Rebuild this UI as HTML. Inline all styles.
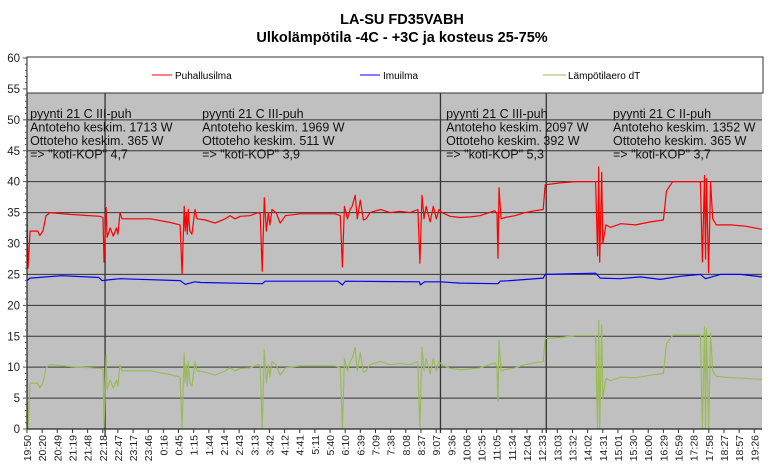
<!DOCTYPE html>
<html><head><meta charset="utf-8">
<style>
html,body{margin:0;padding:0;background:#fff;}
svg{display:block;font-family:"Liberation Sans",Arial,sans-serif;}
</style></head>
<body>
<svg id="chart" width="772" height="472" viewBox="0 0 772 472" xmlns="http://www.w3.org/2000/svg">
  <text x="402" y="24" text-anchor="middle" font-size="14.5" font-weight="bold" fill="#000">LA-SU FD35VABH</text>
  <text x="402" y="42" text-anchor="middle" font-size="14.5" font-weight="bold" fill="#000">Ulkolämpötila -4C - +3C ja kosteus 25-75%</text>
  <rect x="27" y="57" width="735" height="372" fill="#c0c0c0"/>
  <g id="grid"></g>
  <g id="dividers"></g>
  <g id="series"></g>
  <g id="yaxis"></g>
  <g id="xaxis"></g>
  <g>
    <rect x="27" y="57" width="736" height="36" fill="#fff" stroke="#333" stroke-width="1"/>
    <line x1="152" y1="75" x2="172" y2="75" stroke="#f00" stroke-width="1"/>
    <text x="175" y="79" font-size="10" fill="#000">Puhallusilma</text>
    <line x1="360" y1="75" x2="380" y2="75" stroke="#00f" stroke-width="1"/>
    <text x="383" y="79" font-size="10" fill="#000">Imuilma</text>
    <line x1="543" y1="75" x2="566" y2="75" stroke="#9bbb59" stroke-width="1"/>
    <text x="568" y="79" font-size="10" fill="#000">Lämpötilaero dT</text>
  </g>
  <g id="notes" font-size="12.5" fill="#111"></g>
</svg>
<script>
const xLabels=["19:50","20:20","20:49","21:19","21:48","22:18","22:47","23:17","23:46","0:16","0:45","1:15","1:44","2:14","2:43","3:13","3:42","4:12","4:41","5:11","5:40","6:10","6:39","7:09","7:38","8:08","8:37","9:07","9:36","10:06","10:35","11:05","11:34","12:04","12:33","13:03","13:32","14:02","14:31","15:01","15:30","16:00","16:29","16:59","17:28","17:58","18:27","18:57","19:26"];
const yTicks=[0,5,10,15,20,25,30,35,40,45,50,55,60];
// minutes since 19:50
const times=[0,2,6,21,25,31,37,45,84,142,148,150,154,156,162,168,174,177,181,185,240,279,298,302,306,308,310,312,314,317,321,327,331,347,366,386,395,405,415,434,450,454,458,462,466,470,473,477,485,493,503,532,571,600,610,614,618,624,629,633,639,643,649,655,660,668,688,707,726,746,761,765,769,773,777,785,791,797,802,808,824,843,863,882,911,915,917,919,923,931,950,970,989,1005,1009,1038,1068,1107,1111,1113,1115,1119,1121,1127,1136,1156,1185,1214,1239,1245,1257,1311,1315,1319,1321,1323,1327,1331,1335,1342,1370,1399,1431];
const puhallusilma=[35,26,32,32,31.3,32,34.5,35,34.7,34.4,34.2,27,35.8,31,32.5,31.2,32.5,31.5,35,34,34,33.4,33,25,36,32,35,31.5,35.5,32,31.5,35.5,34,33.8,33.3,34,34.5,34,34.4,34.5,35,34.8,25.5,37.4,32,35,33,35.5,35,33.3,34.5,34.8,34.8,34.8,34.5,26.2,36,34,35.5,36,37.8,34,37,33.8,34,35,35.5,35,35.2,35,35.5,26.8,37.8,34,36,33.5,36,34,35.5,35,34.4,34.2,34.3,34.5,35.3,34.8,27.6,39,34,34.2,34.5,35,35.3,35.5,39.5,39.8,40,40,28,42.4,27,41.5,30,33,32.6,33.2,33,33.5,33.8,38.5,40,40,27,41,27.5,40.5,25.3,40,34,33,33,32.8,32.3];
const lampotilaero=[10.8,0,7.4,7.4,6.7,7.4,9.9,10.4,10.1,9.8,9.6,0,12,6.4,7.9,6.6,7.9,6.9,10.4,9.4,9.4,8.8,8.4,0,12.3,7.4,10.4,6.9,10.9,7.4,6.9,10.9,9.4,9.2,8.7,9.4,9.9,9.4,9.8,9.9,10.4,10.2,0,12.8,7.4,10.4,8.4,10.9,10.4,8.7,9.9,10.2,10.2,10.2,9.9,0,11.4,9.4,10.9,11.4,13.2,9.4,12.4,9.2,9.4,10.4,10.9,10.4,10.6,10.4,10.9,0,13.2,9.4,11.4,8.9,11.4,9.4,10.9,10.4,9.8,9.6,9.7,9.9,10.7,10.2,4.4,14.4,9.4,9.6,9.9,10.4,10.7,10.9,14.6,14.8,15.1,15.1,0,17.6,0,16.8,5,8.2,7.8,8.4,8.3,8.7,9,13.8,15.2,15.2,0,16.6,0,16.2,0,15.5,9.4,8.5,8.3,8.2,8];
const imuTimes=[0,6,68,140,146,156,181,298,308,327,338,458,464,605,614,620,764,766,774,804,843,917,921,941,1005,1009,1107,1116,1155,1194,1233,1272,1311,1321,1350,1389,1431];
const imuilma=[24.0,24.4,24.8,24.5,24.0,24.1,24.3,24.0,23.4,23.8,23.7,23.5,23.9,23.9,23.3,23.9,23.8,23.3,23.8,23.8,23.6,23.5,23.9,24.0,24.4,25.0,25.2,24.4,24.3,24.6,24.2,24.7,25.0,24.3,25.0,25.0,24.6];
const dividerTimes=[152,805,1011];
const notes=[
 {t:6,lines:["pyynti 21 C III-puh","Antoteho keskim. 1713 W","Ottoteho keskim. 365 W","=> \"koti-KOP\" 4,7"]},
 {t:341,lines:["pyynti 21 C III-puh","Antoteho keskim. 1969 W","Ottoteho keskim. 511 W","=> \"koti-KOP\" 3,9"]},
 {t:816,lines:["pyynti 21 C III-puh","Antoteho keskim. 2097 W","Ottoteho keskim. 392 W","=> \"koti-KOP\" 5,3"]},
 {t:1141,lines:["pyynti 21 C II-puh","Antoteho keskim. 1352 W","Ottoteho keskim. 365 W","=> \"koti-KOP\" 3,7"]}
];
const NS="http://www.w3.org/2000/svg";
const X0=27,X1=762,Y0=429,Y1=58,TMAX=1431,YMAX=60;
const xs=t=>X0+t/TMAX*(X1-X0);
const ys=v=>Y0-v/YMAX*(Y0-Y1);
function mk(tag,attrs,parent){const e=document.createElementNS(NS,tag);for(const k in attrs)e.setAttribute(k,attrs[k]);parent.appendChild(e);return e;}
const grid=document.getElementById('grid');
yTicks.forEach(v=>{if(v===0)return;
 const l=mk('line',{x1:X0,x2:X1,y1:ys(v),y2:ys(v),stroke:'#333','stroke-width':1},grid);
 
 
});
const yax=document.getElementById('yaxis');
const yl=mk('line',{x1:X0,x2:X0,y1:Y1-1,y2:Y0,stroke:'#222','stroke-width':1.2},yax);


for(let v=0;v<=60;v++){mk('line',{x1:X0-(v%5===0?4:2),x2:X0,y1:ys(v),y2:ys(v),stroke:'#555','stroke-width':1},yax);}
yTicks.forEach(v=>{const t=mk('text',{x:20,y:ys(v)+4,'text-anchor':'end','font-size':11.5,fill:'#222'},yax);t.textContent=v;
 
 
});
const xax=document.getElementById('xaxis');
const xl=mk('line',{x1:X0,x2:X1,y1:Y0,y2:Y0,stroke:'#222','stroke-width':1.2},xax);


xLabels.forEach((s,i)=>{const x=xs(i*29.5);
 mk('line',{x1:x,x2:x,y1:Y0,y2:Y0+4,stroke:'#333'},xax);
 const t=mk('text',{x:0,y:0,'text-anchor':'end','font-size':10.5,fill:'#222',transform:`translate(${x+4},${Y0+6}) rotate(-90)`},xax);t.textContent=s;
 
 
});
const dv=document.getElementById('dividers');
dividerTimes.forEach(t=>{const l=mk('line',{x1:xs(t),x2:xs(t),y1:93,y2:Y0+(t<200?8:4),stroke:'#333','stroke-width':1.3},dv);
 
 
});
const sg=document.getElementById('series');
function line(tt,vv,color,name){const d=tt.map((t,i)=>(i?'L':'M')+xs(t).toFixed(1)+','+ys(vv[i]).toFixed(1)).join('');
 const p=mk('path',{d:d,fill:'none',stroke:color,'stroke-width':1.2,'stroke-linejoin':'round'},sg);
 
 
}
line(times,lampotilaero,'#9bbb59','series-lampotilaero');
line(imuTimes,imuilma,'#0000ff','series-imuilma');
line(times,puhallusilma,'#ff0000','series-puhallusilma');
const ng=document.getElementById('notes');
notes.forEach(n=>{n.lines.forEach((s,i)=>{const t=mk('text',{x:xs(n.t),y:118+i*13.5},ng);t.textContent=s;
 
 
});});
</script>
</body></html>
